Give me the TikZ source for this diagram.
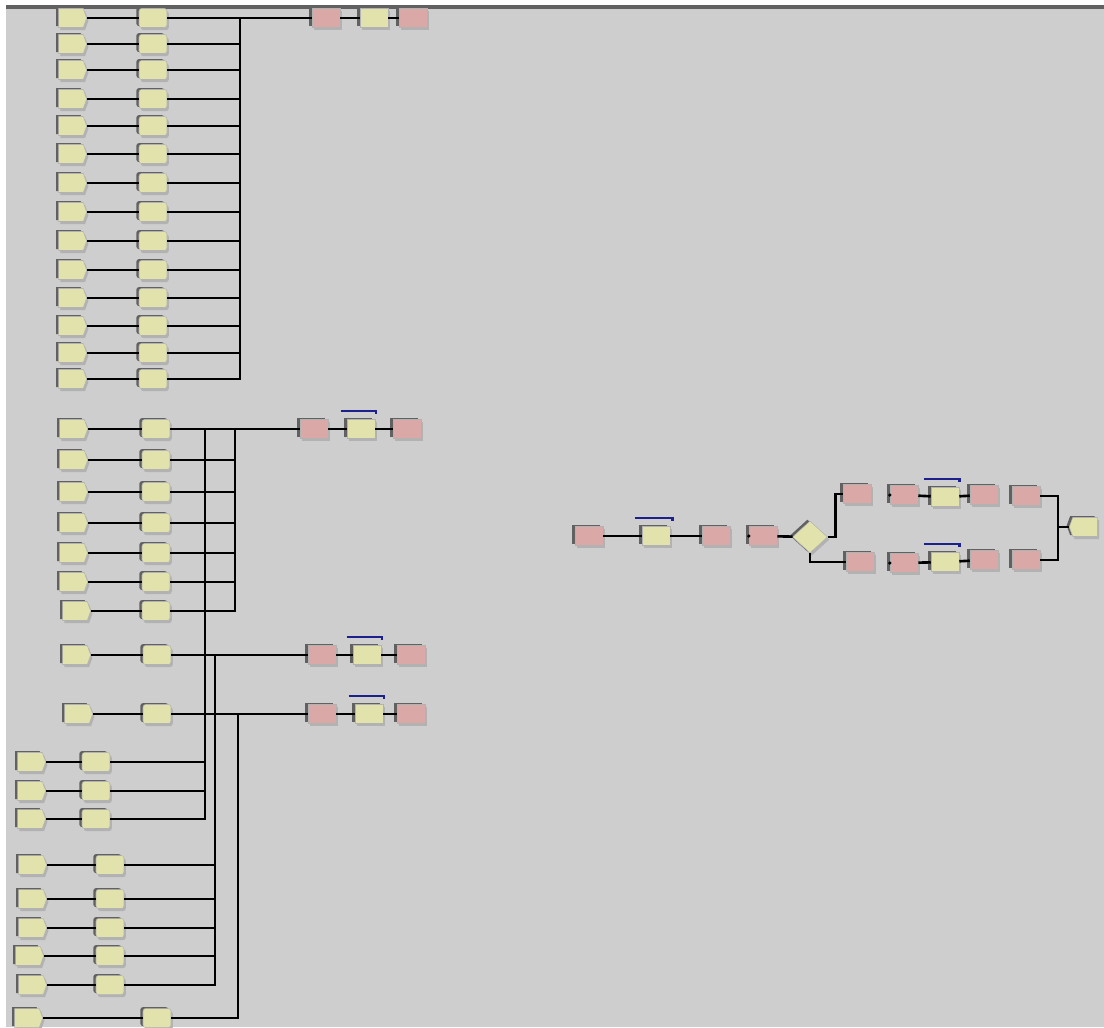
\documentclass[tikz,border=0pt]{standalone}
\usetikzlibrary{shapes.geometric,shapes.symbols,shadows}

\definecolor{arenabg}{RGB}{206,206,206}
\definecolor{modyel}{RGB}{226,226,172}
\definecolor{modpink}{RGB}{219,168,168}
\definecolor{resblue}{RGB}{28,32,140}

\begin{document}
\begin{tikzpicture}[x=0.02cm, y=-0.02cm]
        \tikzstyle{boxbase}=[inner sep=0pt, minimum width=0.56cm, minimum height=0.38cm, draw=black!30, line width=0.3pt,
            general shadow={fill=black!30, shadow xshift=1pt, shadow yshift=-1.5pt},
            general shadow={fill=black!62, shadow xshift=-1.5pt, shadow yshift=0.8pt}]
        \tikzstyle{create}=[boxbase, fill=modyel, signal, signal to=east, signal pointer angle=140]
        \tikzstyle{dispose}=[boxbase, fill=modyel, signal, signal to=west, signal pointer angle=140]
        \tikzstyle{proc}=[boxbase, fill=modyel, rectangle, rounded corners=1.5pt]
        \tikzstyle{seize}=[boxbase, fill=modyel, rectangle]
        \tikzstyle{assign}=[boxbase, fill=modpink, rectangle]
        \tikzstyle{decide}=[boxbase, fill=modyel, diamond, minimum width=0.7cm, minimum height=0.64cm]
        \tikzstyle{link}=[draw, line width=1.5pt]
        \tikzstyle{resbar}=[draw=resblue, line width=1.4pt]

        % window
        \useasboundingbox (0,0) rectangle (1104,1027);
        \fill[white] (0,0) rectangle (1104,1027);
        \fill[arenabg] (6,5) rectangle (1104,1027);
        \fill[black!62] (6,5) rectangle (1104,9);

        % bus points
        \coordinate (busA) at (240,18);
        \coordinate (busB) at (235,429);
        \coordinate (busC) at (205,429);
        \coordinate (busD) at (215,655);
        \coordinate (busE) at (238,714);

        % upper block, 14 arrivals
        \foreach \i/\y in {1/18,2/44,3/70,4/99,5/126,6/154,7/183,8/212,9/241,10/270,11/298,12/326,13/353,14/379} {
            \node[create] (tc\i) at (71,\y) {};
            \node[proc] (tp\i) at (153,\y) {};
            \draw[link] (tc\i) -- (tp\i);
            \draw[link] (tp\i.east) -| (busA);
        }
        \node[assign] (ta1) at (326,18) {};
        \node[seize] (ta2) at (374,18) {};
        \node[assign] (ta3) at (413,18) {};
        \draw[link] (tp1) -- (ta1);
        \draw[link] (ta1) -- (ta2);
        \draw[link] (ta2) -- (ta3);

        % second block
        \foreach \i/\x/\y in {1/72/429,2/72/460,3/72/492,4/72/523,5/72/553,6/72/582,7/75/611} {
            \node[create] (mc\i) at (\x,\y) {};
            \node[proc] (mp\i) at (156,\y) {};
            \draw[link] (mc\i) -- (mp\i);
            \draw[link] (mp\i.east) -| (busB);
        }
        \node[assign] (ma1) at (314,429) {};
        \node[seize] (ma2) at (361,429) {};
        \node[assign] (ma3) at (407,429) {};
        \draw[link] (mp1) -- (ma1);
        \draw[link] (ma1) -- (ma2);
        \draw[link] (ma2) -- (ma3);
        \draw[resbar] ([shift={(-6,-8)}]ma2.north west) -- ([shift={(1,-8)}]ma2.north east) -- ++(0,3);

        % feeders into the second block
        \foreach \i/\y in {1/762,2/791,3/819} {
            \node[create] (lc\i) at (30,\y) {};
            \node[proc] (lp\i) at (96,\y) {};
            \draw[link] (lc\i) -- (lp\i);
            \draw[link] (lp\i.east) -| (busC);
        }

        % third chain
        \node[create] (nc) at (75,655) {};
        \node[proc] (np) at (157,655) {};
        \node[assign] (na1) at (322,655) {};
        \node[seize] (na2) at (367,655) {};
        \node[assign] (na3) at (411,655) {};
        \draw[link] (nc) -- (np);
        \draw[link] (np) -- (na1);
        \draw[link] (na1) -- (na2);
        \draw[link] (na2) -- (na3);
        \draw[resbar] ([shift={(-6,-8)}]na2.north west) -- ([shift={(1,-8)}]na2.north east) -- ++(0,3);
        \foreach \i/\x/\y in {1/31/865,2/31/899,3/31/928,4/28/956,5/31/985} {
            \node[create] (kc\i) at (\x,\y) {};
            \node[proc] (kp\i) at (110,\y) {};
            \draw[link] (kc\i) -- (kp\i);
            \draw[link] (kp\i.east) -| (busD);
        }

        % fourth chain
        \node[create] (oc) at (77,714) {};
        \node[proc] (op) at (157,714) {};
        \node[assign] (oa1) at (322,714) {};
        \node[seize] (oa2) at (369,714) {};
        \node[assign] (oa3) at (411,714) {};
        \draw[link] (oc) -- (op);
        \draw[link] (op) -- (oa1);
        \draw[link] (oa1) -- (oa2);
        \draw[link] (oa2) -- (oa3);
        \draw[resbar] ([shift={(-6,-8)}]oa2.north west) -- ([shift={(1,-8)}]oa2.north east) -- ++(0,3);
        \node[create] (zc) at (27,1018) {};
        \node[proc] (zp) at (157,1018) {};
        \draw[link] (zc) -- (zp);
        \draw[link] (zp.east) -| (busE);

        % right part
        \node[assign] (ra1) at (589,536) {};
        \node[seize] (ra2) at (656,536) {};
        \node[assign] (ra3) at (716,536) {};
        \node[assign] (ra4) at (763,536) {};
        \node[decide] (dec) at (810,537) {};
        \draw[link] (ra1) -- (ra2);
        \draw[link] (ra2) -- (ra3);
        \draw[link] (ra4) -- (dec);
        \draw[resbar] ([shift={(-7,-8)}]ra2.north west) -- ([shift={(2,-8)}]ra2.north east) -- ++(0,3);
        \fill (ra4.west) circle (1pt);

        \node[assign] (up1) at (857,494) {};
        \node[assign] (up2) at (904,495) {};
        \node[seize] (up3) at (945,497) {};
        \node[assign] (up4) at (984,495) {};
        \node[assign] (up5) at (1026,496) {};
        \node[assign] (lo1) at (860,562) {};
        \node[assign] (lo2) at (904,563) {};
        \node[seize] (lo3) at (945,562) {};
        \node[assign] (lo4) at (984,560) {};
        \node[assign] (lo5) at (1026,560) {};
        \node[dispose] (disp) at (1085,527) {};
        \coordinate (jn) at (1058,527);

        \draw[link] (dec.east) -- ++(8,0) |- (up1.west);
        \draw[link] (dec.south) |- (lo1.west);
        \draw[link] (up2) -- (up3);
        \draw[link] (up3) -- (up4);
        \draw[link] (lo2) -- (lo3);
        \draw[link] (lo3) -- (lo4);
        \draw[resbar] ([shift={(-7,-8)}]up3.north west) -- ([shift={(0,-8)}]up3.north east) -- ++(0,3);
        \draw[resbar] ([shift={(-7,-8)}]lo3.north west) -- ([shift={(0,-8)}]lo3.north east) -- ++(0,3);
        \fill (up2.west) circle (1pt);
        \fill (lo2.west) circle (1pt);
        \draw[link] (up5.east) -| (jn) |- (lo5.east);
        \draw[link] (jn) -- (disp);
\end{tikzpicture}
\end{document}
